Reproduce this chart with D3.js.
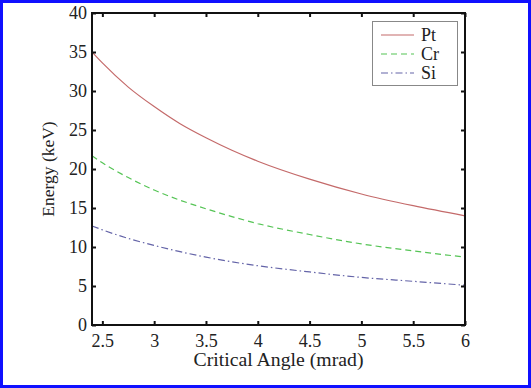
<!DOCTYPE html>
<html lang="en">
  <head>
    <meta charset="utf-8">
    <title>Critical Angle vs Energy</title>
    <script src="https://cdn.jsdelivr.net/npm/d3@7"></script>
    <style>
      html, body { margin:0; padding:0; background:#fff; }
      svg { display:block; }
      text { font-family:"Liberation Serif", "DejaVu Serif", serif; fill:#222; }
    </style>
  </head>
  <body>
    <svg></svg>
    <script>
    // data
    var angles = [2.4, 2.5, 2.75, 3, 3.25, 3.5, 3.75, 4, 4.5, 5, 5.5, 6];
    var pt = [35.0, 33.6, 30.5, 28.0, 25.8, 24.0, 22.4, 21.0, 18.7, 16.8, 15.3, 14.0];
    var cr = [21.7, 20.8, 18.9, 17.3, 16.0, 14.9, 13.9, 13.0, 11.6, 10.4, 9.5, 8.7];
    var si = [12.7, 12.2, 11.1, 10.2, 9.4, 8.7, 8.1, 7.6, 6.8, 6.1, 5.6, 5.1];
    var xTicks = [2.5, 3, 3.5, 4, 4.5, 5, 5.5, 6];
    var yTicks = [0, 5, 10, 15, 20, 25, 30, 35, 40];
    var names = ["Pt", "Cr", "Si"];

    var width = 531, height = 388;
    var svg = d3.select("svg").attr("width", width).attr("height", height);

    // blue frame
    svg.append("rect")
      .attr("x", 1.5).attr("y", 1.5)
      .attr("width", width-3).attr("height", height-3)
      .attr("fill", "#fff")
      .attr("stroke", "#1010ff")
      .attr("stroke-width", 3);

    // plot box (note: "top" is taken by window.top)
    var pL = 92, pR = 465, pT = 13, pB = 325;
    var x = d3.scaleLinear().domain([2.4, 6]).range([pL, pR]);
    var y = d3.scaleLinear().domain([0, 40]).range([pB, pT]);

    var series = [
      {name:names[0], values:pt, color:"#c46a6a", dash:null},
      {name:names[1], values:cr, color:"#55c455", dash:"6,4"},
      {name:names[2], values:si, color:"#6464a8", dash:"7,3,1.5,3"}
    ];

    var line = d3.line()
      .x(function(d, i){ return x(angles[i]); })
      .y(function(d){ return y(d); })
      .curve(d3.curveMonotoneX);

    svg.selectAll("path.curve")
      .data(series)
      .enter().append("path")
      .attr("class", "curve")
      .attr("d", function(d){ return line(d.values); })
      .attr("fill", "none")
      .attr("stroke", function(d){ return d.color; })
      .attr("stroke-width", 1.2)
      .attr("stroke-dasharray", function(d){ return d.dash; });

    // axes, ticks pointing inward on all four sides
    var fs = "18px";
    var bx = svg.append("g").attr("transform", "translate(0," + pB + ")")
      .call(d3.axisBottom(x).tickValues(xTicks).tickSizeInner(-4).tickSizeOuter(0).tickPadding(9).tickFormat(d3.format("")));
    var tx = svg.append("g").attr("transform", "translate(0," + pT + ")")
      .call(d3.axisTop(x).tickValues(xTicks).tickSizeInner(-4).tickSizeOuter(0).tickFormat(""));
    var ly = svg.append("g").attr("transform", "translate(" + pL + ",0)")
      .call(d3.axisLeft(y).tickValues(yTicks).tickSizeInner(-4).tickSizeOuter(0).tickPadding(5));
    var ry = svg.append("g").attr("transform", "translate(" + pR + ",0)")
      .call(d3.axisRight(y).tickValues(yTicks).tickSizeInner(-4).tickSizeOuter(0).tickFormat(""));

    [bx, tx, ly, ry].forEach(function(a){
      a.attr("font-family", null);
      a.select(".domain").remove();
      a.selectAll(".tick line").attr("stroke", "#111").attr("stroke-width", 2);
      a.selectAll(".tick text").style("font-family", "'Liberation Serif', serif").style("font-size", fs).attr("fill", "#222");
    });

    svg.append("rect")
      .attr("x", pL).attr("y", pT)
      .attr("width", pR-pL).attr("height", pB-pT)
      .attr("fill", "none")
      .attr("stroke", "#111")
      .attr("stroke-width", 2);

    // axis titles
    svg.append("text")
      .attr("x", (pL+pR)/2).attr("y", 366)
      .attr("text-anchor", "middle")
      .attr("textLength", 170)
      .attr("lengthAdjust", "spacingAndGlyphs")
      .style("font-size", "18px")
      .text("Critical Angle (mrad)");
    svg.append("text")
      .attr("transform", "translate(54," + ((pT+pB)/2) + ") rotate(-90)")
      .attr("text-anchor", "middle")
      .style("font-size", "17.5px")
      .text("Energy (keV)");

    // legend
    var lg = svg.append("g");
    lg.append("rect")
      .attr("x", 372.5).attr("y", 21.5)
      .attr("width", 85).attr("height", 64)
      .attr("fill", "#fff")
      .attr("stroke", "#888")
      .attr("stroke-width", 1);
    var item = lg.selectAll("g.item")
      .data(series)
      .enter().append("g")
      .attr("class", "item")
      .attr("transform", function(d, i){ return "translate(0," + (35 + i*19) + ")"; });
    item.append("line")
      .attr("x1", 381).attr("x2", 414)
      .attr("stroke", function(d){ return d.color; })
      .attr("stroke-width", 1.2)
      .attr("stroke-dasharray", function(d){ return d.dash; });
    item.append("text")
      .attr("x", 421).attr("y", 6)
      .style("font-size", "18px")
      .text(function(d){ return d.name; });
    </script>
  </body>
</html>
